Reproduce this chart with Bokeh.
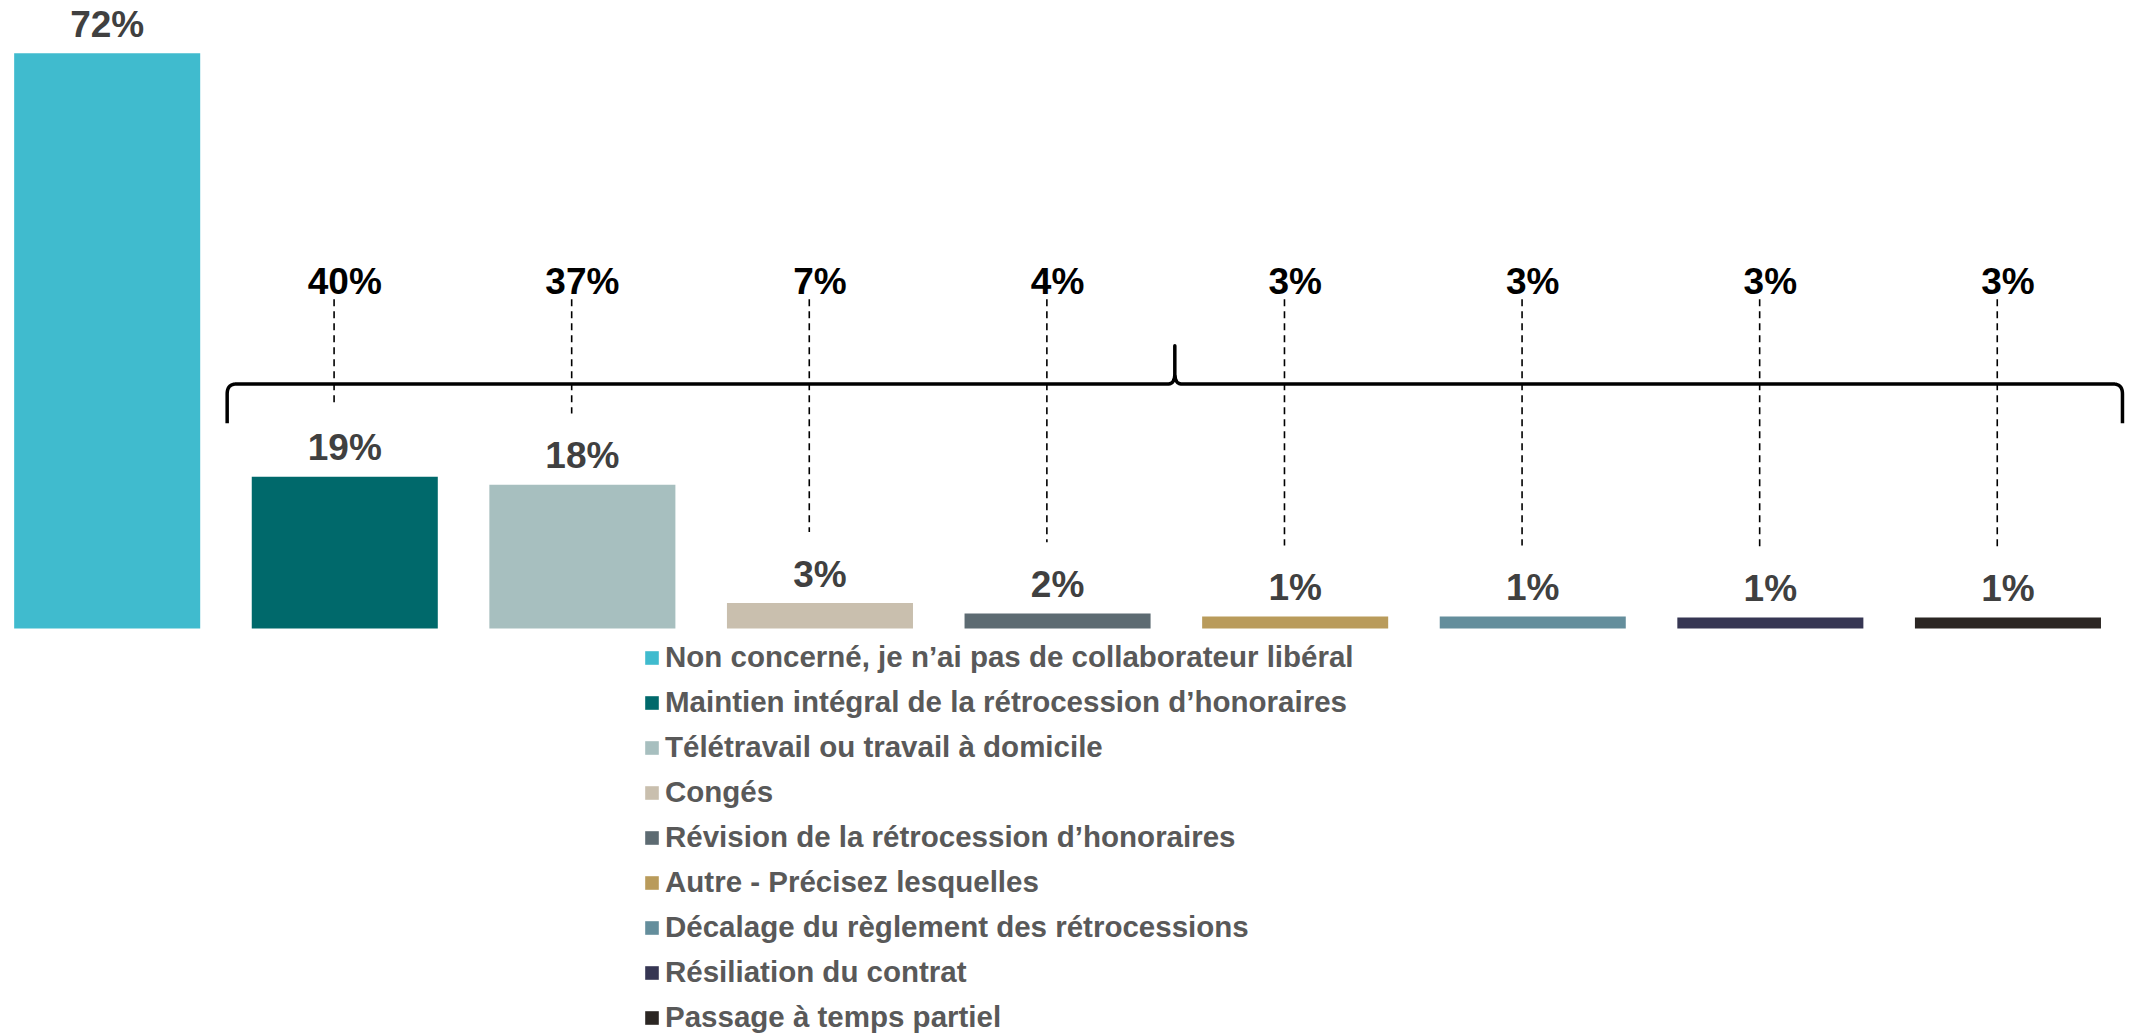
from bokeh.plotting import figure
from bokeh.models import ColumnDataSource, Legend, LegendItem, Range1d
from bokeh.embed import file_html
from bokeh.resources import INLINE
from bokeh.core.properties import value
import numpy as np

# ---------------- data ----------------
categories = [
    "Non concerné, je n’ai pas de collaborateur libéral",
    "Maintien intégral de la rétrocession d’honoraires",
    "Télétravail ou travail à domicile",
    "Congés",
    "Révision de la rétrocession d’honoraires",
    "Autre - Précisez lesquelles",
    "Décalage du règlement des rétrocessions",
    "Résiliation du contrat",
    "Passage à temps partiel",
]
bar_values = [72, 19, 18, 3.2, 1.9, 1.5, 1.5, 1.4, 1.4]
bar_labels = ["72%", "19%", "18%", "3%", "2%", "1%", "1%", "1%", "1%"]
# share among respondents concerned (categories 2..9)
concerned_labels = ["40%", "37%", "7%", "4%", "3%", "3%", "3%", "3%"]
colors = ["#40BBCE", "#00696B", "#A7BFBF", "#C9BFAE", "#5D6B72",
          "#B99B5B", "#648E9C", "#363653", "#2B2623"]

# ---------------- layout constants ----------------
W, H = 2131, 1034
FONT = "Liberation Sans"
BAR_W = 0.783
TOP_LABEL_Y = 41.8      # level of the black labels
DASH_TOP = 41.2
DASH_GAP = 8.9          # dashed line stops this far above bar top
DASH_DX = -0.045
BRACE_Y = 30.6
BRACE_HOOK = 25.7
BRACE_PEAK = 35.4
BRACE_L, BRACE_R = 0.505, 8.482
RX, RY = 0.038, 1.25

xs = list(range(len(categories)))
src = ColumnDataSource(dict(x=xs, top=bar_values, color=colors, cat=categories, lab=bar_labels))

p = figure(width=W, height=H, x_range=Range1d(-0.449, 8.520), y_range=Range1d(-50.8, 78.6),
           output_backend="svg", toolbar_location=None, min_border=0,
           x_axis_location=None, y_axis_location=None)
p.grid.visible = False
p.outline_line_color = None
p.background_fill_color = "white"
p.border_fill_color = "white"

bars = p.vbar(x="x", top="top", bottom=0, width=BAR_W, fill_color="color", line_color=None, source=src)

# value labels above bars
p.text(x="x", y="top", text="lab", source=src, y_offset=-29,
       text_font=value(FONT), text_font_style="bold", text_font_size="37px",
       text_color="#404040", text_align="center", text_baseline="alphabetic")

# black labels (share of concerned respondents)
cx = xs[1:]
p.text(x=cx, y=[TOP_LABEL_Y] * len(cx), text=concerned_labels, y_offset=-13,
       text_font=value(FONT), text_font_style="bold", text_font_size="37px",
       text_color="black", text_align="center", text_baseline="alphabetic")

# dashed connectors
dx = [x + DASH_DX for x in cx]
p.segment(x0=dx, y0=[DASH_TOP] * len(cx), x1=dx, y1=[v + DASH_GAP for v in bar_values[1:]],
          line_color="black", line_width=1.6, line_dash="7 5")

# brace
def qbez(p0, c, p1, n=14):
    t = np.linspace(0, 1, n)
    x = (1 - t) ** 2 * p0[0] + 2 * (1 - t) * t * c[0] + t ** 2 * p1[0]
    y = (1 - t) ** 2 * p0[1] + 2 * (1 - t) * t * c[1] + t ** 2 * p1[1]
    return list(x), list(y)

mid = (BRACE_L + BRACE_R) / 2
bx, by = [BRACE_L], [BRACE_HOOK]
for seg in [
    qbez((BRACE_L, BRACE_Y - RY), (BRACE_L, BRACE_Y), (BRACE_L + RX, BRACE_Y)),
    qbez((mid - 0.03, BRACE_Y), (mid, BRACE_Y), (mid, BRACE_Y + 1.3)),
]:
    bx += seg[0]; by += seg[1]
bx.append(mid); by.append(BRACE_PEAK)
for seg in [
    qbez((mid, BRACE_Y + 1.3), (mid, BRACE_Y), (mid + 0.03, BRACE_Y)),
    qbez((BRACE_R - RX, BRACE_Y), (BRACE_R, BRACE_Y), (BRACE_R, BRACE_Y - RY)),
]:
    bx += seg[0]; by += seg[1]
bx.append(BRACE_R); by.append(BRACE_HOOK)
p.line(bx, by, line_color="black", line_width=3.5, line_join="round")

# legend
items = [LegendItem(label=c, renderers=[bars], index=i) for i, c in enumerate(categories)]
legend = Legend(items=items, location=(643, -1), orientation="vertical",
                label_text_font=FONT, label_text_font_style="bold", label_text_font_size="29.5px",
                label_text_color="#595959", glyph_width=17, glyph_height=17, label_standoff=5,
                label_height=36, spacing=9, padding=0, margin=0,
                border_line_color=None, background_fill_alpha=0)
p.add_layout(legend)

open("out.html", "w").write(file_html(p, INLINE))
